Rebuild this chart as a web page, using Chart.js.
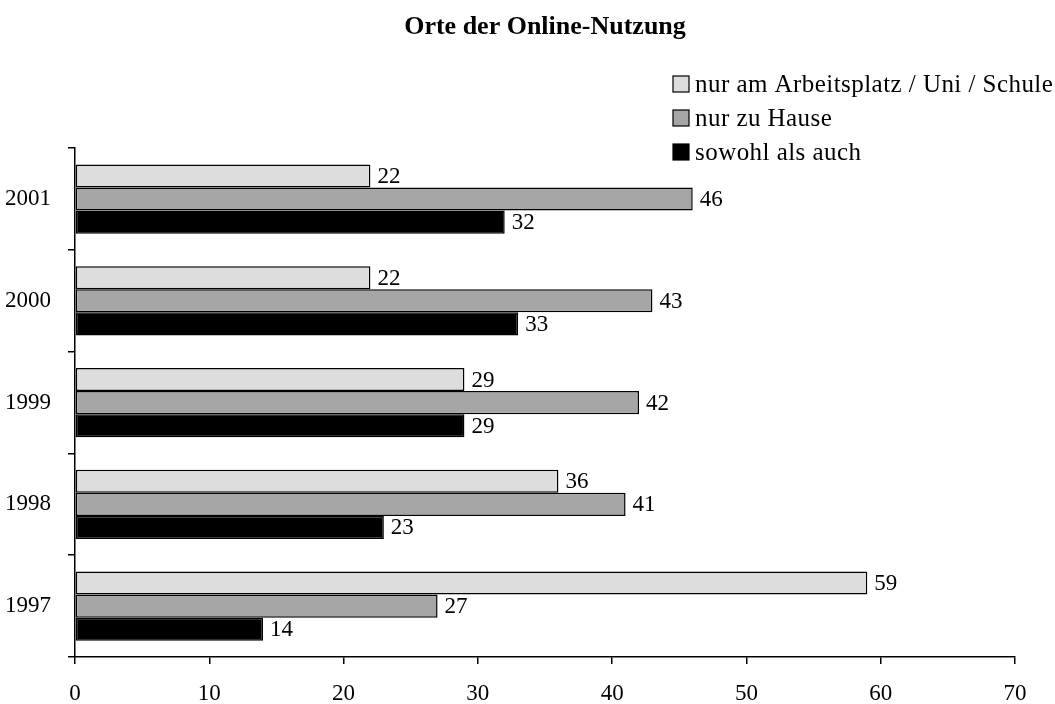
<!DOCTYPE html>
<html>
<head>
<meta charset="utf-8">
<script src="https://cdn.jsdelivr.net/npm/chart.js@4/dist/chart.umd.min.js"></script>
<style>
  html, body { margin: 0; padding: 0; background: #fff; }
  #wrap { width: 1055px; height: 704px; }
</style>
</head>
<body>
<div id="wrap"><canvas id="onlineChart" width="1055" height="704"></canvas></div>
<script>
// years, top to bottom as in the picture
var years = ['2001', '2000', '1999', '1998', '1997'];
var seriesNames = ['nur am Arbeitsplatz / Uni / Schule', 'nur zu Hause', 'sowohl als auch'];
var arbeitsplatz = [22, 22, 29, 36, 59];
var zuHause = [46, 43, 42, 41, 27];
var beides = [32, 33, 29, 23, 14];
var xTicks = [0, 10, 20, 30, 40, 50, 60, 70];

var FONT = '"Liberation Serif", "Times New Roman", serif';

// numbers at the end of each bar
var valueLabels = {
  id: 'valueLabels',
  afterDatasetsDraw: function(chart) {
    var ctx = chart.ctx;
    ctx.save();
    ctx.font = '23px ' + FONT;
    ctx.fillStyle = '#000';
    ctx.textBaseline = 'middle';
    ctx.textAlign = 'left';
    chart.data.datasets.forEach(function(ds, i) {
      chart.getDatasetMeta(i).data.forEach(function(bar, j) {
        ctx.fillText(ds.data[j], bar.x + 7, bar.y + 1);
      });
    });
    ctx.restore();
  }
};

// stacked legend in the top right corner
var sideLegend = {
  id: 'sideLegend',
  afterDraw: function(chart) {
    var ctx = chart.ctx;
    ctx.save();
    ctx.font = '25px ' + FONT;
    ctx.letterSpacing = '0.45px';
    ctx.textBaseline = 'middle';
    chart.data.datasets.forEach(function(ds, i) {
      var y = 84 + i * 34;
      ctx.fillStyle = ds.backgroundColor;
      ctx.fillRect(673, y - 8, 16, 16);
      ctx.strokeStyle = '#000';
      ctx.lineWidth = 1.2;
      ctx.strokeRect(673, y - 8, 16, 16);
      ctx.fillStyle = '#000';
      ctx.fillText(ds.label, 695, y + 1);
    });
    ctx.restore();
  }
};

var ctx = document.getElementById('onlineChart').getContext('2d');
new Chart(ctx, {
  type: 'bar',
  data: {
    labels: years,
    datasets: [
      { label: seriesNames[0], data: arbeitsplatz, backgroundColor: '#dddddd' },
      { label: seriesNames[1], data: zuHause, backgroundColor: '#a6a6a6' },
      { label: seriesNames[2], data: beides, backgroundColor: '#000000' }
    ]
  },
  options: {
    indexAxis: 'y',
    responsive: false,
    animation: false,
    layout: { padding: { left: 0, right: 40, top: 0, bottom: 0 } },
    datasets: {
      bar: {
        borderColor: '#000',
        borderWidth: 1.5,
        borderSkipped: false,
        categoryPercentage: 0.68,
        barPercentage: 1.0
      }
    },
    plugins: {
      legend: { display: false },
      tooltip: { enabled: false },
      title: {
        display: true,
        fullSize: false,
        text: 'Orte der Online-Nutzung',
        color: '#000',
        font: { family: FONT, size: 26, weight: 'bold' },
        padding: { top: 12, bottom: 105 }
      }
    },
    scales: {
      x: {
        min: 0,
        max: 70,
        afterBuildTicks: function(axis) {
          axis.ticks = xTicks.map(function(v) { return { value: v }; });
        },
        afterFit: function(axis) { axis.height = 47; },
        border: { color: '#000', width: 1.5 },
        grid: { drawOnChartArea: false, color: '#000', lineWidth: 1.5, tickLength: 7 },
        ticks: { color: '#000', padding: 16, font: { family: FONT, size: 23 } }
      },
      y: {
        afterFit: function(axis) { axis.width = 75; },
        border: { color: '#000', width: 1.5 },
        grid: { drawOnChartArea: false, color: '#000', lineWidth: 1.5, tickLength: 7, offset: true },
        ticks: { color: '#000', padding: 17, font: { family: FONT, size: 23 } }
      }
    }
  },
  plugins: [valueLabels, sideLegend]
});
</script>
</body>
</html>
